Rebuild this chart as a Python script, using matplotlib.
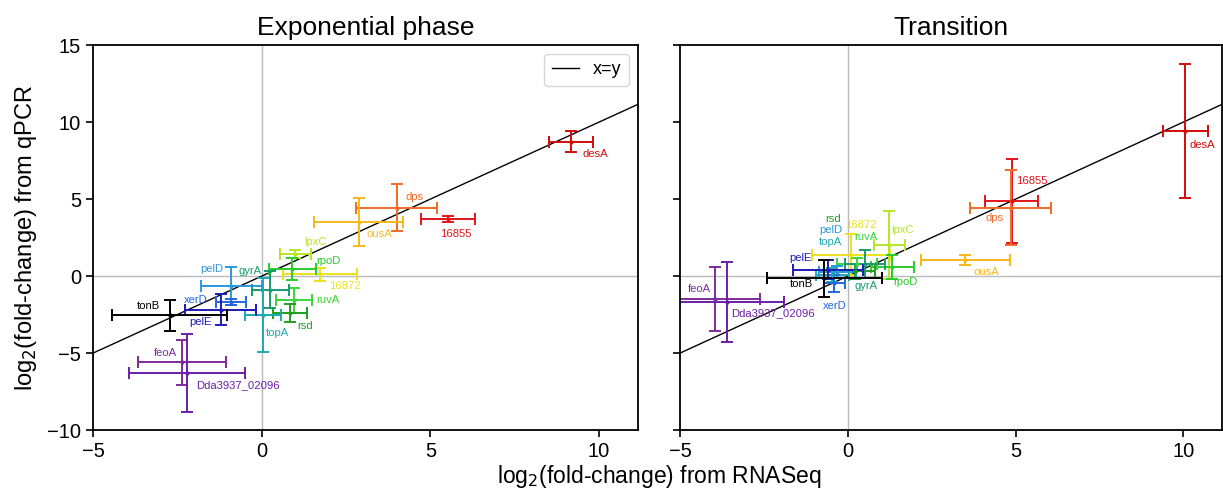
import matplotlib
matplotlib.use('Agg')
import matplotlib.pyplot as plt
import numpy as np

plt.rcParams['font.family'] = ['Liberation Sans', 'DejaVu Sans']

genes = ['desA', '16855', 'dps', 'ousA', '16872', 'lpxC', 'rpoD', 'ruvA', 'rsd',
         'gyrA', 'topA', 'pelD', 'xerD', 'pelE', 'tonB', 'feoA', 'Dda3937_02096']

colors = ['#d40a0a', '#e2141c', '#f26a28', '#f7b817', '#ece21a', '#b4e628', '#2ccb2c',
          '#3ad63a', '#1f9e1f', '#1a9a72', '#1eaab2', '#2a98de', '#2266e0', '#1c1cb8',
          'black', '#7d2c9c', '#6c1eaa']

# exponential phase: RNASeq (x) vs qPCR (y)
exp_x = [9.17, 5.53, 4.00, 2.88, 1.72, 1.00, 0.91, 0.96, 0.85,
         0.26, 0.04, -0.90, -0.90, -1.22, -2.73, -2.37, -2.21]
exp_xerr = [0.65, 0.80, 1.21, 1.32, 1.10, 0.47, 0.69, 0.54, 0.50,
            0.54, 0.52, 0.90, 0.45, 1.05, 1.70, 1.30, 1.72]
exp_y = [8.72, 3.73, 4.45, 3.52, 0.11, 1.45, 0.45, -1.58, -2.39,
         -0.87, -2.52, -0.65, -1.67, -2.17, -2.55, -5.60, -6.29]
exp_yerr = [0.68, 0.20, 1.52, 1.55, 0.40, 0.25, 0.70, 0.80, 0.60,
            1.17, 2.40, 1.25, 0.20, 1.03, 1.03, 1.47, 2.50]

# transition
tr_x = [10.06, 4.88, 4.85, 3.50, 0.10, 1.24, 1.32, 0.27, 0.20,
        0.52, -0.46, -0.32, -0.40, -0.60, -0.70, -3.95, -3.61]
tr_xerr = [0.66, 0.80, 1.20, 1.33, 1.16, 0.47, 0.64, 0.60, 0.60,
           0.60, 0.50, 0.55, 0.32, 1.04, 1.72, 1.34, 1.72]
tr_y = [9.42, 4.88, 4.45, 1.02, 1.40, 2.00, 0.58, 0.78, 0.30,
        0.80, 0.07, 0.28, -0.45, 0.42, -0.15, -1.48, -1.69]
tr_yerr = [4.36, 2.70, 2.44, 0.33, 1.33, 2.20, 0.80, 0.40, 0.50,
           0.90, 0.45, 0.40, 0.55, 0.63, 1.22, 2.10, 2.60]

# label offsets (pixels, right / up) from each point
exp_off = [(24, -12), (8, -15), (18, 11), (21, -12), (25, -12), (20, 12), (36, 8),
           (34, 0), (15, -13), (-20, 19), (14, -18), (-19, 17), (-36, 2), (-20, -12),
           (-21, 9), (-16, 9), (51, -12)]
tr_off = [(17, -14), (20, 20), (-16, -10), (21, -12), (10, 30), (13, 15), (13, -15),
          (9, 27), (-21, 52), (1, -22), (-2, 33), (-6, 42), (0, -23), (-27, 12),
          (-23, -6), (-16, 10), (46, -11)]

fig = plt.figure(figsize=(12.23, 4.95), dpi=100)
ax1 = fig.add_axes([0.076, 0.131, 0.4456, 0.778])
ax2 = fig.add_axes([0.556, 0.131, 0.4432, 0.778], sharey=ax1)


def panel(ax, xs, xerr, ys, yerr, offs, title):
    ax.axhline(0, color='#bbbbbb', lw=1, zorder=0)
    ax.axvline(0, color='#bbbbbb', lw=1, zorder=0)
    line = np.array([-5, 11.2])
    ax.plot(line, line, color='black', lw=1, label='x=y', zorder=1)
    for i in range(len(genes)):
        ax.errorbar(xs[i], ys[i], xerr=xerr[i], yerr=yerr[i], fmt='o', ms=2,
                    color=colors[i], elinewidth=1.4, capsize=4.5, capthick=1.4, zorder=2)
        ax.annotate(genes[i], (xs[i], ys[i]), xytext=(offs[i][0] * 0.72, offs[i][1] * 0.72),
                    textcoords='offset points', ha='center', va='center',
                    fontsize=8.1, color=colors[i])
    ax.set_xlim(-5, 11.15)
    ax.set_ylim(-10, 15)
    ax.set_xticks([-5, 0, 5, 10])
    ax.set_yticks([-10, -5, 0, 5, 10, 15])
    ax.tick_params(labelsize=14.5, width=1.2, length=5)
    for sp in ax.spines.values():
        sp.set_linewidth(1.3)
    ax.set_title(title, fontsize=19, pad=7)


panel(ax1, exp_x, exp_xerr, exp_y, exp_yerr, exp_off, 'Exponential phase')
panel(ax2, tr_x, tr_xerr, tr_y, tr_yerr, tr_off, 'Transition')
plt.setp(ax2.get_yticklabels(), visible=False)

ax1.legend(loc='upper right', fontsize=13, handlelength=1.5)
ax1.set_ylabel('log$_2$(fold-change) from qPCR', fontsize=17, labelpad=6)
fig.text(0.539, 0.01, 'log$_2$(fold-change) from RNASeq', ha='center', va='bottom', fontsize=16.5)

fig.savefig('out.png', dpi=100)
